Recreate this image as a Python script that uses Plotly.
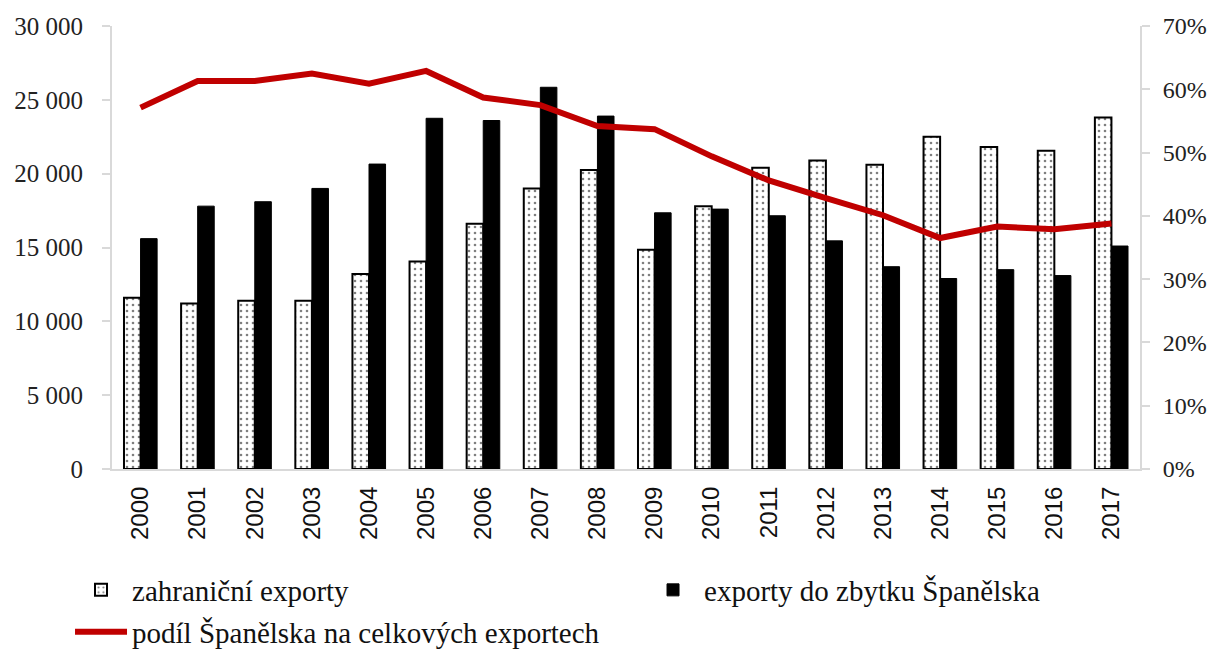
import plotly.graph_objects as go

years = [str(y) for y in range(2000, 2018)]
zahranicni = [11600, 11200, 11400, 11400, 13200, 14050, 16600, 19000, 20250,
              14850, 17800, 20400, 20900, 20600, 22500, 21800, 21550, 23800]
zbytek = [15600, 17800, 18100, 19000, 20650, 23750, 23600, 25850, 23900,
          17350, 17600, 17150, 15450, 13700, 12900, 13500, 13100, 15100]
podil = [57.1, 61.3, 61.3, 62.5, 60.9, 62.9, 58.7, 57.5, 54.2,
         53.7, 49.4, 45.6, 42.8, 40.1, 36.5, 38.3, 37.9, 38.8]

FONT = "Liberation Serif"
SANS = "Liberation Sans"

fig = go.Figure()
fig.add_trace(go.Bar(
    x=years, y=zahranicni, name="zahraniční exporty",
    marker=dict(color="white", line=dict(color="black", width=2),
                pattern=dict(shape=".", fgcolor="black", bgcolor="white", size=6, solidity=0.15)),
    legend="legend",
))
fig.add_trace(go.Bar(
    x=years, y=zbytek, name="exporty do zbytku Španělska",
    marker=dict(color="black", line=dict(color="black", width=1)),
    legend="legend2",
))
fig.add_trace(go.Scatter(
    x=years, y=podil, name="podíl Španělska na celkových exportech",
    mode="lines", line=dict(color="#C00000", width=6), yaxis="y2",
    legend="legend3",
))

legend_common = dict(orientation="h", font=dict(family=FONT, size=29, color="#111"),
                     bgcolor="rgba(0,0,0,0)", xanchor="left", yanchor="middle",
                     itemwidth=52, xref="container", yref="container")

fig.update_layout(
    width=1216, height=650,
    margin=dict(l=104, r=84, t=18, b=189),
    paper_bgcolor="white", plot_bgcolor="white",
    separators=", ",
    showlegend=True,
    barmode="group", bargap=0.42, bargroupgap=0,
    font=dict(family=FONT, size=25, color="#222"),
    xaxis=dict(type="category", tickangle=-90, showline=True, linecolor="#d9d9d9",
               linewidth=2, ticks="", showgrid=False, ticklabelstandoff=6,
               automargin=False,
               tickfont=dict(family=SANS, size=24, color="#111")),
    yaxis=dict(range=[0, 30000], dtick=5000, tickformat=",d", showgrid=False,
               showline=True, linecolor="#d9d9d9", linewidth=2,
               ticks="outside", ticklen=8, tickcolor="#d9d9d9", tickwidth=2,
               ticklabelstandoff=14, automargin=False,
               zeroline=False, tickfont=dict(family=FONT, size=25, color="#222")),
    yaxis2=dict(range=[0, 70], dtick=10, ticksuffix="%", overlaying="y", side="right",
                showgrid=False, showline=True, linecolor="#d9d9d9", linewidth=2,
                ticks="outside", ticklen=8, tickcolor="#d9d9d9", tickwidth=2,
                ticklabelstandoff=8, automargin=False,
                zeroline=False, tickfont=dict(family=FONT, size=24, color="#222")),
    legend=dict(x=0.051, y=0.1046, **legend_common),
    legend2=dict(x=0.5214, y=0.1046, **legend_common),
    legend3=dict(x=0.051, y=0.040, **legend_common),
)

fig.write_html("out.html")
